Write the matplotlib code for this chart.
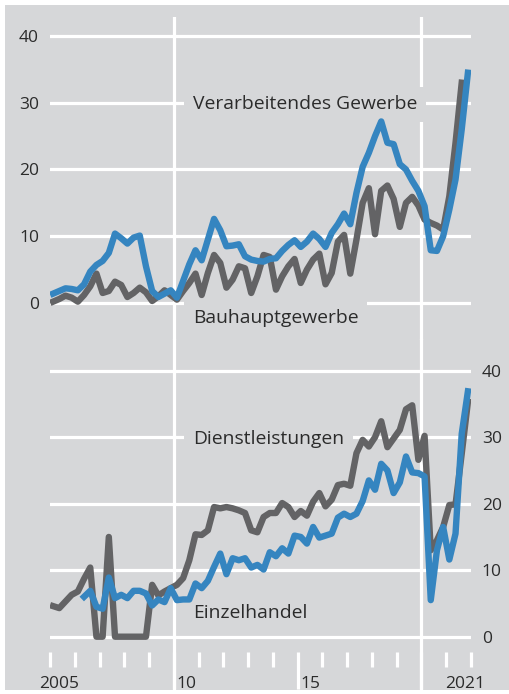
import numpy as np
import matplotlib
matplotlib.use('Agg')
import matplotlib.pyplot as plt
import matplotlib.transforms as mtransforms
from matplotlib.patches import Rectangle

# ---------------- data (quarterly, 2005Q1 .. 2021Q4) ----------------
quarters = np.arange(68) * 0.25 + 2005.125

verarbeitendes = [1.4, 1.8, 2.2, 2.1, 1.9, 2.8, 4.7, 5.7, 6.3, 7.5,
                  10.4, 9.7, 8.9, 9.8, 10.1, 5.5, 1.8, 0.9, 1.4, 1.9,
                  0.8, 3.3, 5.8, 7.9, 6.4, 9.5, 12.6, 10.9, 8.5, 8.6,
                  8.8, 7.0, 6.5, 6.3, 6.2, 6.6, 6.7, 7.8, 8.7, 9.4,
                  8.4, 9.2, 10.4, 9.6, 8.4, 10.5, 11.8, 13.4, 11.8, 16.5,
                  20.4, 22.5, 25.0, 27.2, 24.0, 23.8, 20.8, 20.0, 18.3, 16.8,
                  14.5, 7.9, 7.8, 10.0, 14.0, 18.5, 26.0, 34.5]

bauhaupt = [0.2, 0.6, 1.1, 0.8, 0.2, 1.2, 2.5, 4.4, 1.5, 1.8,
            3.2, 2.7, 0.9, 1.5, 2.3, 1.6, 0.3, 1.0, 1.9, 1.2,
            0.5, 1.8, 3.0, 4.4, 1.2, 4.5, 7.2, 6.0, 2.3, 3.5,
            5.5, 5.2, 1.5, 4.0, 7.2, 6.9, 2.0, 4.0, 5.5, 6.6,
            3.0, 5.0, 6.5, 7.4, 2.8, 4.5, 9.2, 10.2, 4.4, 9.5,
            15.0, 17.2, 10.3, 16.8, 17.6, 15.6, 11.4, 15.0, 15.9, 14.6,
            12.5, 12.0, 11.6, 11.0, 16.0, 24.0, 33.0]

dienstleistungen = [4.6, 4.3, 5.3, 6.3, 6.8, 8.7, 10.4, 0.0, 0.0, 15.0,
                    0.0, 0.0, 0.0, 0.0, 0.0, 0.0, 7.8, 6.2, 6.8, 7.3,
                    7.8, 8.8, 11.5, 15.4, 15.3, 16.0, 19.5, 19.3, 19.5, 19.3,
                    19.0, 18.6, 16.0, 15.7, 18.0, 18.6, 18.6, 20.1, 19.5, 18.0,
                    18.9, 18.2, 20.3, 21.6, 19.6, 20.6, 22.8, 23.0, 22.7, 27.6,
                    29.6, 28.6, 30.0, 32.4, 28.5, 29.8, 31.1, 34.2, 34.8, 26.6,
                    30.2, 13.0, 14.5, 16.5, 19.8, 19.9, 27.5, 35.3]

einzelhandel = [6.0, 6.9, 4.5, 4.2, 8.9,
                5.8, 6.3, 5.8, 6.9, 6.9, 6.5, 4.7, 5.6, 5.2, 7.3,
                5.5, 5.6, 5.6, 8.0, 7.3, 8.4, 10.5, 12.5, 9.4, 11.8,
                11.5, 11.8, 10.4, 10.8, 10.1, 12.7, 12.1, 13.3, 12.5, 15.2,
                15.0, 14.0, 16.5, 14.9, 15.2, 15.5, 17.9, 18.5, 18.0, 18.5,
                20.4, 23.5, 22.1, 26.0, 25.0, 21.6, 23.2, 27.1, 24.7, 24.6,
                24.1, 5.5, 13.0, 16.5, 11.6, 15.5, 30.5, 36.9]

y_ticks = [0, 10, 20, 30, 40]
year_ticks_major = [2010, 2015, 2020]
year_ticks_minor = [2005, 2006, 2007, 2008, 2009, 2011, 2012, 2013, 2014,
                    2016, 2017, 2018, 2019, 2021, 2022]
x_labels = ['2005', '10', '15', '2021']
x_label_pos = [2005.37, 2010.12, 2015.12, 2020.95]
x_label_ha = ['center', 'left', 'left', 'left']

# ---------------- style ----------------
BG = '#d6d7d9'
BLUE = '#3585c0'
GREY = '#636365'
TXT = '#2b2b2b'
FONT = ['Open Sans', 'DejaVu Sans']
plt.rcParams['font.family'] = FONT

W, H = 510, 694
fig = plt.figure(figsize=(W / 100, H / 100), dpi=100)
fig.patch.set_facecolor('white')
fig.patches.append(Rectangle((5 / W, 1 - 690 / H), (W - 5) / W, (690 - 5) / H,
                             transform=fig.transFigure, fc=BG, ec='none', zorder=-5))


def rect(x0, x1, ytop, ybot):
    return [x0 / W, 1 - ybot / H, (x1 - x0) / W, (ybot - ytop) / H]


def ylims(y0px, y40px, ytop, ybot):
    s = (y0px - y40px) / 40.0
    return (-(ybot - y0px) / s, 40 + (y40px - ytop) / s)


ax1 = fig.add_axes(rect(50, 471, 17, 340))
ax2 = fig.add_axes(rect(50, 471, 340, 652))
ax1.set_ylim(*ylims(303, 36, 17, 340))
ax2.set_ylim(*ylims(636.7, 370.7, 340, 652))

GW = 2.3
for ax in (ax1, ax2):
    ax.set_facecolor('none')
    ax.set_xlim(2005, 2022)
    for sp in ax.spines.values():
        sp.set_visible(False)
    ax.set_yticks(y_ticks)
    ax.grid(axis='y', color='white', lw=GW, zorder=0.5)
    ax.set_axisbelow(True)
    ax.tick_params(axis='y', length=0, labelsize=12.5, labelcolor=TXT)

ax1.tick_params(axis='y', pad=7.9)
ax1.set_xticks([])
ax2.yaxis.tick_right()
ax2.tick_params(axis='y', pad=7.7)

ext = -(689 - 652) / (652 - 340)
for yr in (2010, 2020):
    ax1.axvline(yr, color='white', lw=GW, zorder=0.8)
    ax2.axvline(yr, ymin=ext, ymax=1, color='white', lw=GW, zorder=0.8,
                clip_on=False)

ax2.set_xticks(year_ticks_major)
ax2.set_xticks(year_ticks_minor, minor=True)
ax2.tick_params(axis='x', which='major', direction='out', length=37 * 0.72,
                width=GW, color='white', labelbottom=False)
ax2.tick_params(axis='x', which='minor', direction='out', length=15 * 0.72,
                width=GW, color='white', labelbottom=False)

trans = mtransforms.blended_transform_factory(ax2.transData, ax2.transAxes)
ylab = -(688 - 652) / (652 - 340)
for lab, xp, ha in zip(x_labels, x_label_pos, x_label_ha):
    ax2.text(xp, ylab, lab, transform=trans, ha=ha, va='baseline',
             fontsize=12.5, color=TXT)

# ---------------- series ----------------
LW = 4.6
ax1.plot(quarters[:len(bauhaupt)], bauhaupt, color=GREY, lw=LW, zorder=3)
ax1.plot(quarters, verarbeitendes, color=BLUE, lw=LW, zorder=4)
ax2.plot(quarters, dienstleistungen, color=GREY, lw=LW, zorder=3)
ax2.plot(quarters[68 - len(einzelhandel):], einzelhandel, color=BLUE, lw=LW, zorder=4)

box = dict(boxstyle='square,pad=0.45', fc=BG, ec='none')
LFS = 13.9
ax1.text(2010.78, 29.02, 'Verarbeitendes Gewerbe', ha='left', va='baseline',
         fontsize=LFS, color=TXT, bbox=box, zorder=2)
ax1.text(2010.78, -3.04, 'Bauhauptgewerbe', ha='left', va='baseline',
         fontsize=LFS, color=TXT, bbox=box, zorder=2)
ax2.text(2010.78, 28.98, 'Dienstleistungen', ha='left', va='baseline',
         fontsize=LFS, color=TXT, bbox=box, zorder=2)
ax2.text(2010.78, 2.77, 'Einzelhandel', ha='left', va='baseline',
         fontsize=LFS, color=TXT, bbox=box, zorder=2)

fig.savefig('out.png', dpi=100, facecolor=fig.get_facecolor())
